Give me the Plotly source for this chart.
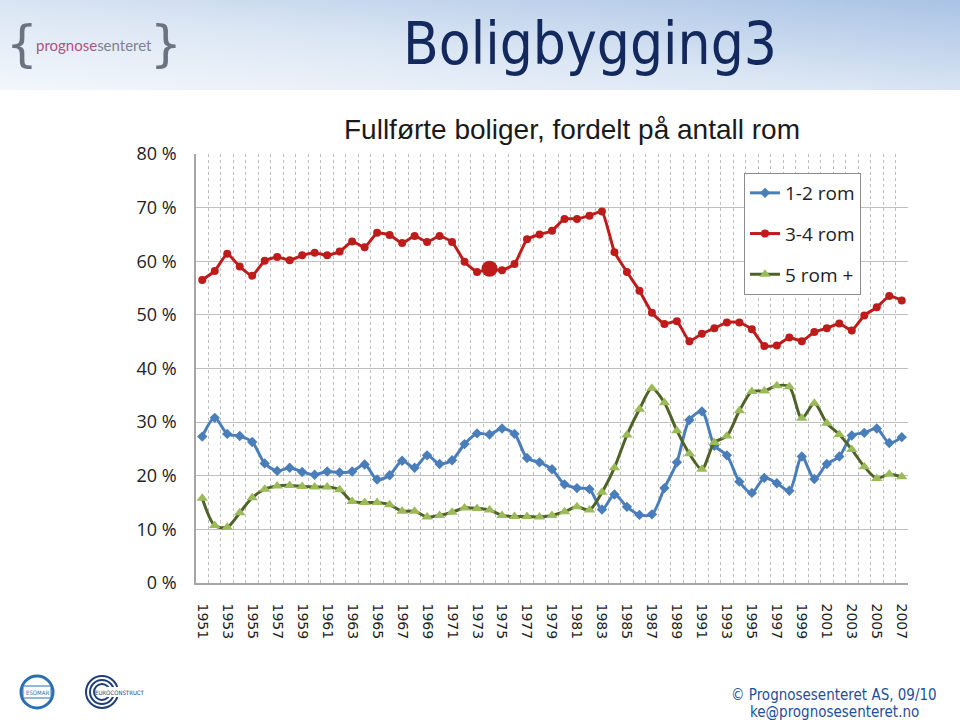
import base64
import plotly.graph_objects as go

# ---------------- data ----------------
years = list(range(1951, 2008))

rom_1_2 = [27.3, 30.8, 27.8, 27.4, 26.3, 22.3, 20.9, 21.5, 20.7, 20.2,
           20.8, 20.6, 20.8, 22.1, 19.3, 20.1, 22.8, 21.5, 23.8, 22.2,
           22.9, 25.9, 27.9, 27.7, 28.8, 27.8, 23.3, 22.5, 21.2, 18.4,
           17.7, 17.5, 13.7, 16.5, 14.2, 12.7, 12.8, 17.7, 22.5, 30.4,
           32.0, 25.6, 23.8, 18.9, 16.8, 19.6, 18.6, 17.2, 23.6, 19.4,
           22.2, 23.6, 27.5, 28.0, 28.8, 26.1, 27.2]

rom_3_4 = [56.5, 58.2, 61.4, 59.0, 57.3, 60.1, 60.8, 60.2, 61.1, 61.6,
           61.1, 61.8, 63.7, 62.6, 65.3, 64.9, 63.4, 64.7, 63.6, 64.7,
           63.6, 59.9, 58.0, 58.6, 58.3, 59.5, 64.1, 65.0, 65.7, 67.9,
           67.9, 68.5, 69.3, 61.7, 58.0, 54.5, 50.4, 48.3, 48.8, 45.1,
           46.5, 47.5, 48.6, 48.6, 47.3, 44.2, 44.3, 45.8, 45.1, 46.8,
           47.5, 48.4, 47.1, 49.9, 51.4, 53.5, 52.7]

rom_5_plus = [15.8, 10.7, 10.4, 13.1, 15.9, 17.5, 18.1, 18.2, 18.0, 17.9,
              17.9, 17.4, 15.2, 15.0, 15.0, 14.6, 13.4, 13.4, 12.3, 12.6,
              13.2, 14.0, 13.9, 13.6, 12.6, 12.4, 12.4, 12.3, 12.6, 13.3,
              14.2, 13.6, 16.9, 21.5, 27.6, 32.4, 36.3, 33.6, 28.4, 24.1,
              21.2, 26.2, 27.4, 32.1, 35.7, 35.8, 36.8, 36.6, 30.7, 33.5,
              29.8, 27.7, 24.9, 21.7, 19.5, 20.3, 19.8]

series_names = ["1-2 rom", "3-4 rom", "5 rom +"]
y_tick_vals = [0, 10, 20, 30, 40, 50, 60, 70, 80]
y_tick_text = ["0 %", "10 %", "20 %", "30 %", "40 %", "50 %", "60 %", "70 %", "80 %"]
x_tick_vals = list(range(1951, 2008, 2))

HIGHLIGHT_YEAR = 1974

# ---------------- layout geometry ----------------
W, H = 960, 720
PL, PR, PT, PB = 196, 908, 154, 583  # plot area in pixels


def px(x):
    return (x - PL) / (PR - PL)


def py(y):
    return (PB - y) / (PB - PT)


fig = go.Figure()

fig.add_trace(go.Scatter(
    x=years, y=rom_1_2, name=series_names[0], mode="lines+markers",
    line=dict(color="#4A7EBB", width=3, shape="spline", smoothing=0.8),
    marker=dict(symbol="diamond", size=8, color="#4A7EBB", opacity=1,
                line=dict(width=0)),
    legendgroup="a"))

red_sizes = [16 if y == HIGHLIGHT_YEAR else 8 for y in years]
fig.add_trace(go.Scatter(
    x=years, y=rom_3_4, name=series_names[1], mode="lines+markers",
    line=dict(color="#BE1B1B", width=3, shape="spline", smoothing=0.4),
    marker=dict(symbol="circle", size=red_sizes, color="#BE1B1B", opacity=1,
                line=dict(width=0)),
    legendgroup="b"))

fig.add_trace(go.Scatter(
    x=years, y=rom_5_plus, name=series_names[2], mode="lines+markers",
    line=dict(color="#4F6228", width=3, shape="spline", smoothing=0.8),
    marker=dict(symbol="triangle-up", size=10, color="#9BBB59", opacity=1,
                line=dict(width=0)),
    legendgroup="c"))

# header gradient (SVG data URI)
svg = (
    '<svg xmlns="http://www.w3.org/2000/svg" width="960" height="90" '
    'preserveAspectRatio="none" viewBox="0 0 960 90">'
    '<defs><linearGradient id="g" x1="0" y1="1" x2="1" y2="0">'
    '<stop offset="0" stop-color="#F3F7FC"/>'
    '<stop offset="0.45" stop-color="#DCE7F4"/>'
    '<stop offset="1" stop-color="#A9C3E5"/>'
    '</linearGradient></defs>'
    '<rect x="0" y="0" width="960" height="90" fill="url(#g)"/></svg>'
)
svg_uri = "data:image/svg+xml;base64," + base64.b64encode(svg.encode()).decode()

fig.add_layout_image(dict(
    source=svg_uri, xref="paper", yref="paper",
    x=px(0), y=py(0), sizex=px(960) - px(0), sizey=py(0) - py(90),
    xanchor="left", yanchor="top", sizing="stretch", layer="below"))

annotations = []
annotations.append(dict(
    text="Boligbygging3", xref="paper", yref="paper",
    x=px(590), y=py(44), xanchor="center", yanchor="middle",
    showarrow=False,
    font=dict(family="DejaVu Sans Condensed, DejaVu Sans", size=58,
              color="#13295E"),
    ))

# logo
annotations.append(dict(
    text="{", xref="paper", yref="paper", x=px(22), y=py(44),
    xanchor="center", yanchor="middle", showarrow=False,
    font=dict(family="DejaVu Sans", size=50, color="#6B7380")))
annotations.append(dict(
    text="}", xref="paper", yref="paper", x=px(166), y=py(44),
    xanchor="center", yanchor="middle", showarrow=False,
    font=dict(family="DejaVu Sans", size=50, color="#6B7380")))
annotations.append(dict(
    text="<span style='color:#B0527E'>prognose</span>"
         "<span style='color:#7D8290'>senteret</span>",
    xref="paper", yref="paper", x=px(94), y=py(45),
    xanchor="center", yanchor="middle", showarrow=False,
    font=dict(family="Lato", size=15)))

# chart title
annotations.append(dict(
    text="Fullførte boliger, fordelt på antall rom",
    xref="paper", yref="paper", x=px(572), y=py(130),
    xanchor="center", yanchor="middle", showarrow=False,
    font=dict(family="Liberation Sans Narrow, Arial Narrow, Liberation Sans",
              size=28, color="#1a1a1a")))

# footer
annotations.append(dict(
    text="© Prognosesenteret AS, 09/10", xref="paper", yref="paper",
    x=px(834), y=py(695), xanchor="center", yanchor="middle",
    showarrow=False,
    font=dict(family="DejaVu Sans Condensed, DejaVu Sans", size=15, color="#1F4E9A")))
annotations.append(dict(
    text="ke@prognosesenteret.no", xref="paper", yref="paper",
    x=px(834), y=py(712), xanchor="center", yanchor="middle",
    showarrow=False,
    font=dict(family="DejaVu Sans Condensed, DejaVu Sans", size=15, color="#1F4E9A")))

# bottom-left logos
annotations.append(dict(
    text="ESOMAR", xref="paper", yref="paper", x=px(37), y=py(692),
    xanchor="center", yanchor="middle", showarrow=False,
    font=dict(family="DejaVu Sans Condensed, DejaVu Sans", size=6, color="#2A6FB5")))
annotations.append(dict(
    text="EUROCONSTRUCT", xref="paper", yref="paper", x=px(120), y=py(692),
    xanchor="center", yanchor="middle", showarrow=False,
    font=dict(family="DejaVu Sans Condensed, DejaVu Sans", size=6, color="#1F3F7A")))

shapes = []
shapes.append(dict(type="circle", xref="paper", yref="paper",
                   x0=px(21), x1=px(53), y0=py(708), y1=py(676),
                   line=dict(color="#2A6FB5", width=3)))
shapes.append(dict(type="rect", xref="paper", yref="paper",
                   x0=px(23), x1=px(51), y0=py(698), y1=py(686),
                   line=dict(color="#2A6FB5", width=1), fillcolor="white"))
for r in (16, 12, 8):
    shapes.append(dict(type="circle", xref="paper", yref="paper",
                       x0=px(102 - r), x1=px(102 + r), y0=py(692 + r), y1=py(692 - r),
                       line=dict(color="#1F3F7A", width=2)))
shapes.append(dict(type="rect", xref="paper", yref="paper",
                   x0=px(97), x1=px(146), y0=py(697), y1=py(687),
                   line=dict(width=0), fillcolor="white"))

fig.update_layout(
    width=W, height=H,
    margin=dict(l=PL, r=W - PR, t=PT, b=H - PB, pad=0),
    paper_bgcolor="white", plot_bgcolor="white",
    showlegend=True,
    legend=dict(
        x=px(744), y=py(173), xanchor="left", yanchor="top",
        bgcolor="white", bordercolor="#8C8C8C", borderwidth=1,
        font=dict(family="Open Sans", size=19, color="#222"),
        tracegroupgap=13, itemwidth=30,
    ),
    annotations=annotations,
    shapes=shapes,
    xaxis=dict(
        range=[1950.5, 2007.5], tickmode="array", tickvals=x_tick_vals,
        ticktext=[str(v) for v in x_tick_vals], tickangle=90,
        tickfont=dict(family="DejaVu Sans", size=14, color="#222"),
        showgrid=False, zeroline=False, ticks="outside", ticklen=16,
        tickcolor="rgba(0,0,0,0)",
        showline=True, linecolor="#A6A6A6", linewidth=1.5,
        minor=dict(tickmode="linear", tick0=1950.5, dtick=1, showgrid=True,
                   gridcolor="#BDBDBD", griddash="dot", gridwidth=1, ticks=""),
        fixedrange=True,
    ),
    yaxis=dict(
        range=[0, 80], tickmode="array", tickvals=y_tick_vals, ticktext=y_tick_text,
        tickfont=dict(family="Open Sans", size=18, color="#222"),
        showgrid=True, gridcolor="#BFBFBF", gridwidth=1, zeroline=False,
        showline=True, linecolor="#A6A6A6", linewidth=1.5,
        ticks="outside", ticklen=14, tickcolor="rgba(0,0,0,0)",
        fixedrange=True,
    ),
)

fig.write_html("out.html")
